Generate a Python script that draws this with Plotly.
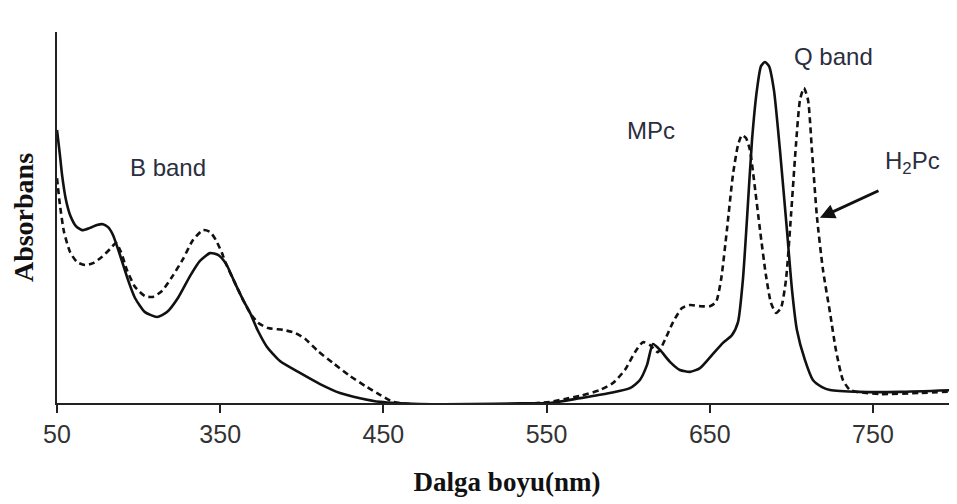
import plotly.graph_objects as go

# Wavelength (nm) and absorbance (arbitrary units)
mpc_wl = [250, 251.8, 253.1, 255.5, 258.0, 261.6, 265.3, 270.2, 274.5, 278.2, 281.3, 284.3,
          288.6, 293.5, 297.8, 303.9, 311.3, 317.4, 324.1, 331.5, 337.6, 343.8, 348.7, 353.6,
          359.1, 364.0, 368.3, 373.2, 378.7, 386.6, 398.9, 411.2, 423.4, 435.7, 447.9, 472.4,
          503.1, 533.7, 552.1, 570.5, 588.8, 601.1, 607.2, 611.5, 615.2, 619.5, 625.6, 631.7,
          637.9, 644.0, 651.3, 658.1, 663.6, 667.3, 670.3, 672.8, 675.9, 678.9, 681.4, 683.8,
          686.3, 689.3, 693.0, 697.3, 700.4, 703.4, 708.3, 713.2, 718.8, 723.7, 742.0, 766.5,
          801.5]
mpc_abs = [0.736, 0.668, 0.615, 0.547, 0.507, 0.477, 0.466, 0.472, 0.480, 0.482, 0.474, 0.453,
           0.399, 0.332, 0.283, 0.245, 0.232, 0.245, 0.283, 0.342, 0.383, 0.404, 0.399, 0.375,
           0.323, 0.278, 0.243, 0.194, 0.151, 0.113, 0.081, 0.051, 0.027, 0.013, 0.003, -0.003,
           -0.003, -0.001, 0.000, 0.013, 0.027, 0.040, 0.062, 0.102, 0.159, 0.143, 0.111, 0.089,
           0.084, 0.094, 0.129, 0.162, 0.183, 0.218, 0.332, 0.495, 0.709, 0.844, 0.908, 0.919,
           0.908, 0.844, 0.682, 0.466, 0.305, 0.197, 0.116, 0.062, 0.043, 0.035, 0.030, 0.030,
           0.035]

h2pc_wl = [250, 251.8, 254.3, 258.0, 262.3, 267.2, 272.1, 277.6, 282.5, 286.2, 289.2, 292.9,
           297.8, 303.9, 308.8, 314.3, 320.5, 327.2, 333.3, 339.5, 343.8, 347.4, 351.1, 353.6,
           359.1, 364.0, 368.3, 373.2, 379.3, 388.5, 395.8, 402.0, 409.9, 419.1, 429.5, 439.9,
           447.9, 455.9, 472.4, 503.1, 533.7, 552.1, 561.3, 570.5, 582.7, 590.7, 598.0, 604.2,
           609.1, 613.4, 618.3, 622.5, 627.5, 633.0, 637.9, 644.0, 650.1, 653.8, 656.9, 660.5,
           664.2, 667.3, 669.7, 672.2, 674.6, 677.1, 680.8, 684.4, 687.5, 690.6, 693.6, 696.7,
           699.8, 702.8, 705.3, 707.7, 710.2, 712.6, 715.7, 719.4, 723.7, 727.3, 731.6, 735.9,
           740.2, 754.3, 778.8, 801.5]
h2pc_abs = [0.606, 0.534, 0.461, 0.407, 0.380, 0.372, 0.377, 0.394, 0.415, 0.431, 0.407, 0.358,
            0.313, 0.288, 0.286, 0.302, 0.340, 0.388, 0.439, 0.466, 0.461, 0.439, 0.404, 0.375,
            0.323, 0.278, 0.243, 0.216, 0.202, 0.197, 0.189, 0.173, 0.140, 0.108, 0.073, 0.043,
            0.022, 0.003, -0.005, -0.005, -0.003, 0.003, 0.011, 0.019, 0.035, 0.054, 0.089, 0.137,
            0.164, 0.156, 0.137, 0.170, 0.218, 0.256, 0.264, 0.261, 0.261, 0.272, 0.332, 0.466,
            0.615, 0.695, 0.722, 0.714, 0.682, 0.601, 0.466, 0.345, 0.270, 0.243, 0.256, 0.332,
            0.507, 0.695, 0.817, 0.849, 0.817, 0.682, 0.501, 0.358, 0.243, 0.143, 0.062, 0.035,
            0.030, 0.024, 0.027, 0.032]

tick_vals = [250, 350, 450, 550, 650, 750]
tick_text = ["50", "350", "450", "550", "650", "750"]

fig = go.Figure()
fig.add_trace(go.Scatter(x=h2pc_wl, y=h2pc_abs, mode="lines", name="H2Pc",
                         line=dict(color="#111111", width=2.6, dash="6px,4px", shape="spline", smoothing=0.6)))
fig.add_trace(go.Scatter(x=mpc_wl, y=mpc_abs, mode="lines", name="MPc",
                         line=dict(color="#111111", width=2.6, shape="spline", smoothing=0.6)))

txt = dict(family="Liberation Sans, Arial", size=24, color="#2b2e40")
fig.add_annotation(x=318, y=0.635, text="B band", showarrow=False, font=txt)
fig.add_annotation(x=614, y=0.735, text="MPc", showarrow=False, font=txt)
fig.add_annotation(x=726, y=0.933, text="Q band", showarrow=False, font=txt)
fig.add_annotation(x=774, y=0.647, text="H<sub>2</sub>Pc", showarrow=False, font=txt)
fig.add_annotation(x=717.5, y=0.499, ax=754.3, ay=0.574, axref="x", ayref="y",
                   xref="x", yref="y", text="", showarrow=True,
                   arrowhead=2, arrowsize=1.0, arrowwidth=3, arrowcolor="#111111")

fig.update_layout(
    width=949, height=496,
    margin=dict(l=49, r=0, t=24, b=101),
    paper_bgcolor="white", plot_bgcolor="white",
    showlegend=False,
    xaxis=dict(range=[250, 801.5], tickvals=tick_vals, ticktext=tick_text,
               automargin=False,
               showline=True, linecolor="#222222", linewidth=2,
               ticks="outside", ticklen=8, tickwidth=2, tickcolor="#222222",
               showgrid=False, zeroline=False,
               tickfont=dict(family="Liberation Sans, Arial", size=25, color="#333333"),
               title=dict(text="<b>Dalga boyu(nm)</b>", standoff=25,
                          font=dict(family="Liberation Serif, Times New Roman", size=27, color="#111111"))),
    yaxis=dict(range=[0, 1.0], automargin=False, showline=True, linecolor="#222222", linewidth=2,
               showticklabels=False, ticks="", showgrid=False, zeroline=False,
               title=dict(text="<b>Absorbans</b>", standoff=14,
                          font=dict(family="Liberation Serif, Times New Roman", size=28, color="#111111"))),
)

fig.write_html("out.html")
